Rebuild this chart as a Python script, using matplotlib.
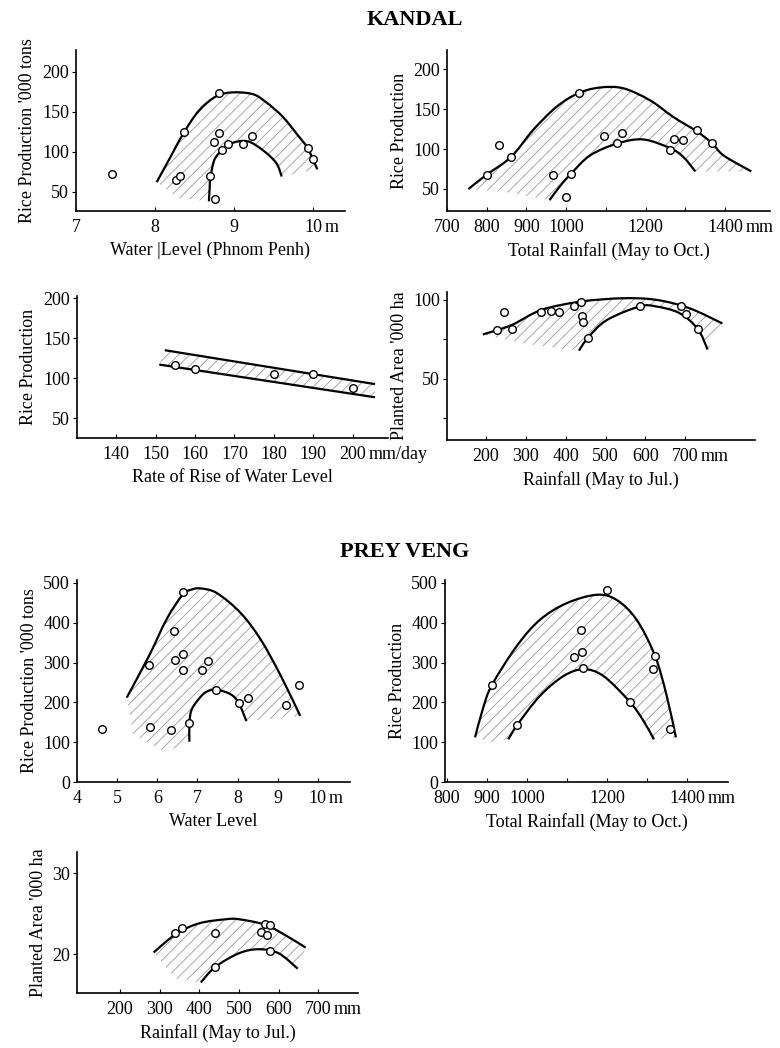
import numpy as np
import matplotlib
matplotlib.use("Agg")
import matplotlib.pyplot as plt
from matplotlib.path import Path
from matplotlib.patches import PathPatch

plt.rcParams['font.family'] = ['Liberation Serif', 'DejaVu Serif']
plt.rcParams['font.size'] = 13
plt.rcParams['hatch.linewidth'] = 0.6

# ---------------- KANDAL: water level (Phnom Penh) ----------------
k_wl_x = [7.45, 8.37, 8.26, 8.31, 8.81, 8.75, 8.81, 8.70, 8.76, 8.85, 8.92, 9.11, 9.22, 9.93, 10.0]
k_wl_y = [72, 125, 65, 70, 173, 112, 123, 70, 41, 102, 109, 110, 120, 105, 91]
k_wl_up_x = [8.02, 8.12, 8.22, 8.37, 8.56, 8.77, 8.97, 9.23, 9.40, 9.61, 9.80, 9.93, 10.05]
k_wl_up_y = [62, 80, 98, 125, 152, 169, 174, 172, 162, 144, 121, 104, 78]
k_wl_lo_x = [8.68, 8.69, 8.70, 8.75, 8.85, 8.98, 9.17, 9.36, 9.53, 9.60]
k_wl_lo_y = [38, 55, 68, 90, 102, 111, 113, 102, 86, 69]

# ---------------- KANDAL: total rainfall (May to Oct.) ----------------
k_tr_x = [800, 830, 861, 968, 999, 1012, 1031, 1096, 1129, 1140, 1262, 1272, 1295, 1329, 1368]
k_tr_y = [68, 105, 90, 67, 40, 69, 170, 116, 107, 120, 99, 113, 111, 124, 107]
k_tr_up_x = [754, 800, 861, 917, 976, 1031, 1085, 1144, 1211, 1270, 1329, 1368, 1396, 1466]
k_tr_up_y = [50, 68, 90, 124, 153, 170, 177, 176, 161, 140, 122, 107, 92, 72]
k_tr_lo_x = [958, 985, 1012, 1060, 1129, 1194, 1262, 1295, 1325]
k_tr_lo_y = [36, 54, 69, 92, 107, 112, 101, 90, 72]

# ---------------- KANDAL: rate of rise of water level ----------------
k_rr_x = [155, 160, 180, 190, 200]
k_rr_y = [116, 112, 105, 105, 87]
k_rr_up_x = [152.3, 205.7]
k_rr_up_y = [135, 92.5]
k_rr_lo_x = [150.9, 205.7]
k_rr_lo_y = [117, 76]

# ---------------- KANDAL: rainfall (May to Jul.) vs planted area ----------------
k_pa_x = [228, 246, 264, 339, 362, 383, 420, 438, 442, 443, 456, 587, 688, 702, 731]
k_pa_y = [80.6, 92.2, 81.4, 92, 93.2, 92, 96.4, 98.5, 90, 86, 76, 96.2, 95.8, 91, 81.6]
k_pa_up_x = [192, 264, 339, 438, 543, 627, 710, 793]
k_pa_up_y = [78, 84, 93.6, 98.9, 101, 100, 94.7, 85]
k_pa_lo_x = [433, 456, 502, 585, 627, 685, 731, 756]
k_pa_lo_y = [67.7, 76, 87, 95.8, 95.8, 91.6, 81.6, 68.4]

# ---------------- PREY VENG: water level ----------------
p_wl_x = [4.62, 5.80, 5.82, 6.35, 6.41, 6.45, 6.64, 6.64, 6.63, 6.78, 7.12, 7.26, 7.46, 8.03, 8.26, 9.21, 9.54]
p_wl_y = [134, 293, 137, 131, 378, 307, 322, 280, 476, 149, 281, 305, 232, 198, 210, 194, 243]
p_wl_up_x = [5.24, 5.80, 6.24, 6.63, 6.85, 7.08, 7.49, 8.08, 8.58, 9.08, 9.56]
p_wl_up_y = [212, 318, 410, 470, 483, 486, 474, 424, 357, 266, 166]
p_wl_lo_x = [6.80, 6.80, 6.85, 6.99, 7.20, 7.46, 7.83, 8.03, 8.22]
p_wl_lo_y = [101, 149, 180, 203, 225, 232, 220, 198, 153]

# ---------------- PREY VENG: total rainfall (May to Oct.) ----------------
p_tr_x = [912, 976, 1118, 1135, 1138, 1141, 1199, 1256, 1314, 1320, 1356]
p_tr_y = [243, 144, 313, 381, 327, 286, 481, 202, 284, 316, 134]
p_tr_up_x = [870, 890, 912, 974, 1032, 1099, 1174, 1224, 1274, 1320, 1349, 1372]
p_tr_up_y = [112, 185, 243, 341, 407, 449, 470, 457, 407, 316, 216, 112]
p_tr_lo_x = [953, 976, 1032, 1091, 1141, 1191, 1256, 1290, 1317]
p_tr_lo_y = [107, 144, 216, 266, 283, 266, 202, 155, 107]

# ---------------- PREY VENG: rainfall (May to Jul.) vs planted area ----------------
p_pa_x = [340, 357, 440, 440, 565, 577, 556, 571, 577]
p_pa_y = [22.6, 23.2, 22.6, 18.4, 23.7, 23.6, 22.7, 22.4, 20.4]
p_pa_up_x = [285, 342, 400, 467, 500, 567, 625, 668]
p_pa_up_y = [20.2, 22.5, 23.8, 24.3, 24.3, 23.6, 22.1, 20.8]
p_pa_lo_x = [404, 440, 500, 550, 600, 648]
p_pa_lo_y = [16.5, 18.4, 20.1, 20.6, 20.1, 18.2]

fig = plt.figure(figsize=(7.8, 10.48), dpi=100)


def smooth_path(xs, ys):
    """Cubic path through the read points (Catmull-Rom style handles)."""
    p = np.column_stack([xs, ys]).astype(float)
    n = len(p)
    if n < 3:
        return Path(p)
    verts = [p[0]]
    codes = [Path.MOVETO]
    for i in range(n - 1):
        p0 = p[i - 1] if i > 0 else p[i]
        p1, p2 = p[i], p[i + 1]
        p3 = p[i + 2] if i + 2 < n else p[i + 1]
        verts += [p1 + (p2 - p0) / 6, p2 - (p3 - p1) / 6, p2]
        codes += [Path.CURVE4] * 3
    return Path(verts, codes)


def flat(path):
    return np.concatenate(path.to_polygons(closed_only=False))


def panel(rect, xlim, ylim, xticks, xlabels, yticks, ylabels, unit, unit_x,
          xlabel, ylabel, pts, up, lo, floor=None):
    ax = fig.add_axes(rect)
    for s in ('top', 'right'):
        ax.spines[s].set_visible(False)
    ax.spines['left'].set_linewidth(1.2)
    ax.spines['bottom'].set_linewidth(1.2)
    ax.set_xlim(*xlim)
    ax.set_ylim(*ylim)
    ax.set_xticks(xticks)
    ax.set_xticklabels(xlabels)
    ax.set_yticks(yticks)
    ax.set_yticklabels(ylabels)
    ax.tick_params(axis='x', direction='in', length=3, pad=6)
    ax.tick_params(axis='y', direction='out', length=3, pad=2)
    ax.set_xlabel(xlabel, labelpad=4)
    ax.set_ylabel(ylabel, labelpad=4)
    # unit written just after the last labelled tick
    ndig = len(str(unit_x))
    ax.annotate(unit, xy=(unit_x, 0), xycoords=('data', 'axes fraction'),
                xytext=(3.3 * ndig + 1.5, -6), textcoords='offset points',
                ha='left', va='top')

    up_path = smooth_path(*up)
    lo_path = smooth_path(*lo)
    shade = np.vstack([flat(up_path), flat(lo_path)[::-1]])
    if floor is not None:
        shade = np.vstack([shade, np.column_stack(floor)])
    ax.fill(shade[:, 0], shade[:, 1], facecolor='none', edgecolor='0.6',
            linewidth=0, hatch='///')

    for pth in (up_path, lo_path):
        ax.add_patch(PathPatch(pth, facecolor='none', edgecolor='black',
                               lw=1.6, capstyle='butt'))
    ax.scatter(pts[0], pts[1], s=30, facecolor='white', edgecolor='black',
               linewidth=1.0, zorder=3)
    return ax


# KANDAL
panel([0.0974, 0.7987, 0.3449, 0.1536], (7, 10.4), (26, 227),
      [7, 8, 9, 10], ['7', '8', '9', '10'], [50, 100, 150, 200],
      ['50', '100', '150', '200'], 'm', 10,
      'Water |Level (Phnom Penh)', "Rice Production '000 tons",
      (k_wl_x, k_wl_y), (k_wl_up_x, k_wl_up_y), (k_wl_lo_x, k_wl_lo_y),
      floor=([8.3], [42]))

panel([0.5731, 0.7987, 0.4141, 0.1536], (700, 1513), (22.5, 224),
      [700, 800, 900, 1000, 1100, 1200, 1300, 1400],
      ['700', '800', '900', '1000', '', '1200', '', '1400'],
      [50, 100, 150, 200], ['50', '100', '150', '200'], 'mm', 1400,
      'Total Rainfall (May to Oct.)', 'Rice Production',
      (k_tr_x, k_tr_y), (k_tr_up_x, k_tr_up_y), (k_tr_lo_x, k_tr_lo_y),
      floor=([850], [46]))

panel([0.0987, 0.5821, 0.3987, 0.1355], (130, 209), (25, 203),
      [140, 150, 160, 170, 180, 190, 200],
      ['140', '150', '160', '170', '180', '190', '200'],
      [50, 100, 150, 200], ['50', '100', '150', '200'], 'mm/day', 200,
      'Rate of Rise of Water Level', 'Rice Production',
      (k_rr_x, k_rr_y), (k_rr_up_x, k_rr_up_y), (k_rr_lo_x, k_rr_lo_y))

panel([0.5731, 0.5802, 0.3949, 0.1412], (102, 875), (11, 105),
      [200, 300, 400, 500, 600, 700],
      ['200', '300', '400', '500', '600', '700'],
      [25, 50, 75, 100], ['', '50', '', '100'], 'mm', 700,
      'Rainfall (May to Jul.)', "Planted Area '000 ha",
      (k_pa_x, k_pa_y), (k_pa_up_x, k_pa_up_y), (k_pa_lo_x, k_pa_lo_y),
      floor=([300], [72]))

# PREY VENG
panel([0.0987, 0.2538, 0.35, 0.1927], (4, 10.8), (0, 507),
      [4, 5, 6, 7, 8, 9, 10], ['4', '5', '6', '7', '8', '9', '10'],
      [0, 100, 200, 300, 400, 500], ['0', '100', '200', '300', '400', '500'],
      'm', 10, 'Water Level', "Rice Production '000 tons",
      (p_wl_x, p_wl_y), (p_wl_up_x, p_wl_up_y), (p_wl_lo_x, p_wl_lo_y),
      floor=([6.2, 5.4], [75, 120]))

panel([0.5705, 0.2538, 0.3628, 0.1927], (795, 1502), (0, 507),
      [800, 900, 1000, 1100, 1200, 1300, 1400],
      ['800', '900', '1000', '', '1200', '', '1400'],
      [0, 100, 200, 300, 400, 500], ['0', '100', '200', '300', '400', '500'],
      'mm', 1400, 'Total Rainfall (May to Oct.)', 'Rice Production',
      (p_tr_x, p_tr_y), (p_tr_up_x, p_tr_up_y), (p_tr_lo_x, p_tr_lo_y),
      floor=([910], [100]))

panel([0.0987, 0.0525, 0.3603, 0.1345], (92, 800), (15.2, 32.6),
      [200, 300, 400, 500, 600, 700],
      ['200', '300', '400', '500', '600', '700'],
      [20, 30], ['20', '30'], 'mm', 700,
      'Rainfall (May to Jul.)', "Planted Area '000 ha",
      (p_pa_x, p_pa_y), (p_pa_up_x, p_pa_up_y), (p_pa_lo_x, p_pa_lo_y),
      floor=([340], [17.0]))

fig.text(415 / 780, 1 - 20 / 1048, 'KANDAL', ha='center', va='center',
         fontsize=16, fontweight='bold')
fig.text(405 / 780, 1 - 552 / 1048, 'PREY VENG', ha='center', va='center',
         fontsize=16, fontweight='bold')

fig.savefig('out.png', dpi=100)
